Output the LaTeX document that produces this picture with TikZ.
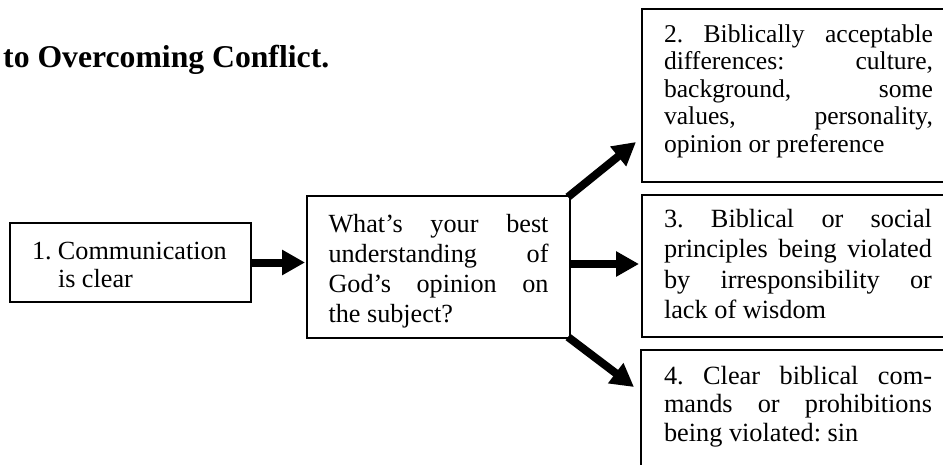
\documentclass[tikz,border=0pt]{standalone}
\usepackage{fontspec}
\setmainfont{Liberation Serif}
\usetikzlibrary{arrows.meta,calc}
\newcommand\justln[1]{\makebox[\linewidth][s]{#1}\\}
\tikzset{
  box/.style={draw, line width=1.2pt, anchor=north west, inner ysep=0pt, outer sep=0pt},
  bigarrow/.style={line width=8pt, -{Triangle[length=23pt,width=24pt]}},
}
\begin{document}
\frenchspacing
\begin{tikzpicture}[x=1pt,y=-1pt]
\useasboundingbox[fill=white] (0,0) rectangle (943,464);
% title
\node[anchor=base west, inner sep=0pt, font=\fontsize{31.7}{34}\selectfont\bfseries] (title) at (3,67) {to Overcoming Conflict.};
% box 1
\node[box, inner xsep=22pt] (b1) at (10,223) {\parbox[c][79pt][t]{197pt}{\fontsize{26.2}{28}\selectfont
\rule{0pt}{36pt}\makebox[26pt][l]{1.}Communication\\
\hspace*{26pt}is clear}};
% middle box
\node[box, inner xsep=21.5pt] (bm) at (307,196) {\parbox[c][142pt][t]{220pt}{\fontsize{26.2}{30}\selectfont
\rule{0pt}{36pt}\justln{What’s your best}
\justln{understanding of}
\justln{God’s opinion on}
the subject?}};
% box 2
\node[box, overlay, inner xsep=22pt] (b2) at (642,9) {\parbox[c][173pt][t]{269pt}{\fontsize{25.6}{27.5}\selectfont
\rule{0pt}{33pt}\justln{2. Biblically acceptable}
\justln{differences: culture,}
\justln{background, some}
\justln{values, personality,}
opinion or preference}};
% box 3
\node[box, overlay, inner xsep=22pt] (b3) at (642,195) {\parbox[c][142pt][t]{268pt}{\fontsize{26.3}{30.5}\selectfont
\rule{0pt}{32pt}\justln{3. Biblical or social}
\justln{principles being violated}
\justln{by irresponsibility or}
lack of wisdom}};
% box 4
\node[box, overlay, inner xsep=23pt] (b4) at (641,350) {\parbox[c][130pt][t]{268pt}{\fontsize{26.3}{28.5}\selectfont
\rule{0pt}{34pt}\justln{4. Clear biblical com-}
\justln{mands or prohibitions}
being violated: sin}};
% arrows
\coordinate (t2) at ([xshift=-6pt,yshift=40pt]b2.south west);
\coordinate (t4) at ([xshift=-7pt,yshift=-37pt]b4.north west);
\draw[bigarrow, shorten >=2pt] (b1.east) -- (b1.east -| bm.west);
\draw[bigarrow, shorten >=3pt] ([yshift=3pt]bm.east) -- ([yshift=3pt]bm.east -| b3.west);
\draw[bigarrow] ([xshift=-2pt,yshift=-1pt]bm.north east) -- (t2);
\draw[bigarrow] ([xshift=-2pt,yshift=1pt]bm.south east) -- (t4);
\end{tikzpicture}
\end{document}
